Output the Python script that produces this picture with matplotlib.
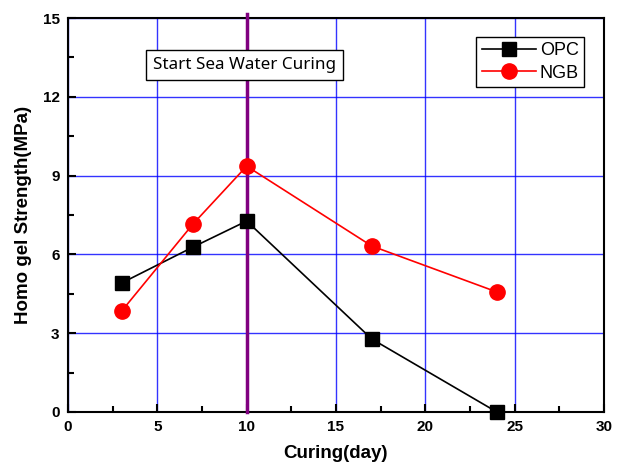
import numpy as np
import matplotlib.pyplot as plt
from matplotlib.ticker import MultipleLocator

days = [3, 7, 10, 17, 24]
opc = [4.91, 6.28, 7.27, 2.78, 0.0]
ngb = [3.84, 7.16, 9.36, 6.32, 4.57]

plt.rcParams['font.family'] = ['Liberation Sans', 'DejaVu Sans']

fig = plt.figure(figsize=(6.25, 4.68), dpi=100)
ax = fig.add_axes([0.1088, 0.1197, 0.8576, 0.8418])

ax.plot(days, opc, color='black', marker='s', markersize=10, linewidth=1.2,
        label='OPC', zorder=4, clip_on=False)
ax.plot(days, ngb, color='red', marker='o', markersize=11, linewidth=1.2,
        label='NGB', zorder=4, clip_on=False)

# start of sea water curing
ax.axvline(10, ymin=0, ymax=1.01, color='#800080', linewidth=2.5, zorder=3, clip_on=False)
ax.text(9.9, 13.2, 'Start Sea Water Curing', ha='center', va='center', fontsize=12.3,
        family=['Noto Sans', 'DejaVu Sans'], zorder=5,
        bbox=dict(boxstyle='square,pad=0.4', facecolor='white', edgecolor='black', linewidth=1))

ax.set_xlim(0, 30)
ax.set_ylim(0, 15)
ax.xaxis.set_major_locator(MultipleLocator(5))
ax.xaxis.set_minor_locator(MultipleLocator(2.5))
ax.yaxis.set_major_locator(MultipleLocator(3))
ax.yaxis.set_minor_locator(MultipleLocator(1.5))
ax.tick_params(which='both', direction='in', top=False, right=False, width=1.5)
ax.tick_params(which='major', length=6, labelsize=11, pad=6)
ax.tick_params(which='minor', length=4)
for lbl in ax.get_xticklabels() + ax.get_yticklabels():
    lbl.set_fontweight('bold')

ax.grid(True, which='major', color='blue', linewidth=1, alpha=0.8)
for s in ax.spines.values():
    s.set_linewidth(1.5)

ax.set_xlabel('Curing(day)', fontsize=13.5, fontweight='bold', labelpad=8)
ax.set_ylabel('Homo gel Strength(MPa)', fontsize=13.5, fontweight='bold', labelpad=8)

leg = ax.legend(loc='upper right', bbox_to_anchor=(0.963, 0.952), fontsize=13,
                fancybox=False, framealpha=1, edgecolor='black',
                handlelength=3.0, handletextpad=0.2, borderpad=0.3, labelspacing=0.3,
                borderaxespad=0)
leg.get_frame().set_linewidth(1)

fig.savefig('out.png', dpi=100)
